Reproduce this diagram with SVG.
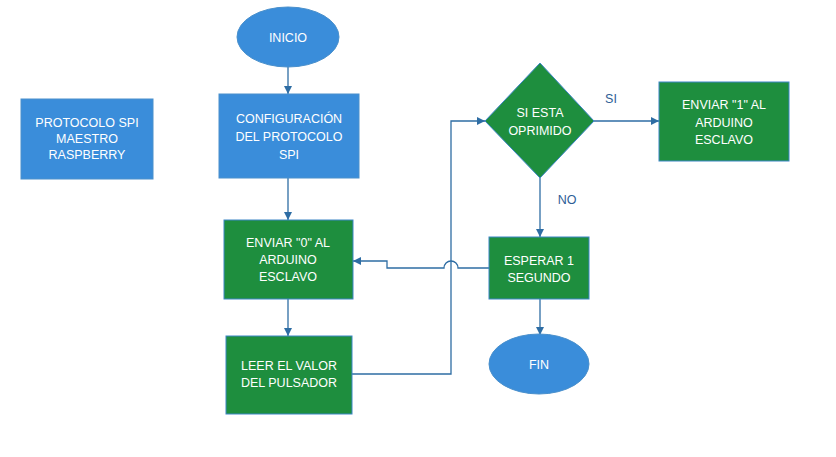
<svg xmlns="http://www.w3.org/2000/svg" width="836" height="457" viewBox="0 0 836 457">
<defs>
<marker id="ah" viewBox="0 0 10 10" refX="10" refY="5" markerWidth="8" markerHeight="8" markerUnits="userSpaceOnUse" orient="auto">
<path d="M0,0 L10,5 L0,10 z" fill="#2E6DA4"/>
</marker>
<style>
.blue{fill:#3A8DDA;stroke:#4A90CC;stroke-width:1}
.green{fill:#1E8E3E;stroke:#3D86C6;stroke-width:1}
.t{font-family:"Liberation Sans",Arial,sans-serif;font-size:12.5px;fill:#ffffff;text-anchor:middle}
.lbl{font-family:"Liberation Sans",Arial,sans-serif;font-size:12.5px;fill:#2E5E96;text-anchor:middle}
.c{fill:none;stroke:#2E6DA4;stroke-width:1.3}
</style>
</defs>
<rect width="836" height="457" fill="#ffffff"/>
<g id="connectors">
<path class="c" d="M288,67 V94" marker-end="url(#ah)"/>
<path class="c" d="M288,178 V220" marker-end="url(#ah)"/>
<path class="c" d="M288,299 V336" marker-end="url(#ah)"/>
<path class="c" d="M352,374 H451 V121 H485" marker-end="url(#ah)"/>
<path class="c" d="M594,121 H659" marker-end="url(#ah)"/>
<path class="c" d="M540,178 V237" marker-end="url(#ah)"/>
<path class="c" d="M489,268 H458 A7,7 0 0 0 444,268 H387 V261 H353" marker-end="url(#ah)"/>
<path class="c" d="M540,299 V335" marker-end="url(#ah)"/>
<text class="lbl" x="611" y="103">SI</text>
<text class="lbl" x="567" y="204">NO</text>
</g>
<g id="protocolo">
<rect class="blue" x="21" y="99" width="132" height="80"/>
<text class="t" x="87" y="127">PROTOCOLO SPI</text>
<text class="t" x="87" y="143">MAESTRO</text>
<text class="t" x="87" y="159">RASPBERRY</text>
</g>
<g id="inicio">
<ellipse class="blue" cx="288" cy="37" rx="51" ry="30"/>
<text class="t" x="288" y="42">INICIO</text>
</g>
<g id="config">
<rect class="blue" x="219" y="94" width="140" height="84"/>
<text class="t" x="289" y="123">CONFIGURACIÓN</text>
<text class="t" x="289" y="141">DEL PROTOCOLO</text>
<text class="t" x="289" y="159">SPI</text>
</g>
<g id="enviar0">
<rect class="green" x="224" y="220" width="129" height="79"/>
<text class="t" x="288" y="247">ENVIAR "0" AL</text>
<text class="t" x="288" y="264">ARDUINO</text>
<text class="t" x="288" y="281">ESCLAVO</text>
</g>
<g id="leer">
<rect class="green" x="226" y="336" width="126" height="78"/>
<text class="t" x="289" y="370">LEER EL VALOR</text>
<text class="t" x="289" y="387">DEL PULSADOR</text>
</g>
<g id="decision">
<polygon class="green" points="540,63 594,121 540,178 485,121"/>
<text class="t" x="540" y="117">SI ESTA</text>
<text class="t" x="540" y="135">OPRIMIDO</text>
</g>
<g id="enviar1">
<rect class="green" x="659" y="82" width="130" height="79"/>
<text class="t" x="724" y="109">ENVIAR "1" AL</text>
<text class="t" x="724" y="127">ARDUINO</text>
<text class="t" x="724" y="144">ESCLAVO</text>
</g>
<g id="esperar">
<rect class="green" x="489" y="237" width="100" height="62"/>
<text class="t" x="539" y="265">ESPERAR 1</text>
<text class="t" x="539" y="282">SEGUNDO</text>
</g>
<g id="fin">
<ellipse class="blue" cx="539" cy="364" rx="50" ry="30"/>
<text class="t" x="539" y="369">FIN</text>
</g>
</svg>
